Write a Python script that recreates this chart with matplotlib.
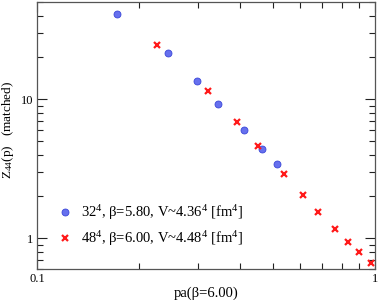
import numpy as np
import matplotlib
matplotlib.use("Agg")
import matplotlib.pyplot as plt
from matplotlib.ticker import LogLocator, NullFormatter, FixedLocator, FixedFormatter

# data
pa_32 = [0.1725, 0.244, 0.2985, 0.344, 0.409, 0.464, 0.513]
z44_32 = [41.2, 21.4, 13.5, 9.31, 5.99, 4.37, 3.43]

pa_48 = [0.2262, 0.320, 0.392, 0.450, 0.538, 0.612, 0.678, 0.760, 0.832, 0.899, 0.975]
z44_48 = [24.7, 11.5, 6.84, 4.63, 2.90, 2.05, 1.55, 1.16, 0.946, 0.794, 0.668]

label_32 = r"32$^4$, β=5.80, V~4.36$^4$ [fm$^4$]"
label_48 = r"48$^4$, β=6.00, V~4.48$^4$ [fm$^4$]"

plt.rcParams['font.family'] = ['Liberation Serif', 'DejaVu Serif']
plt.rcParams['mathtext.fontset'] = 'custom'
plt.rcParams['mathtext.rm'] = 'Liberation Serif'
plt.rcParams['mathtext.it'] = 'Liberation Serif:italic'

fig = plt.figure(figsize=(3.79, 3.0), dpi=100)
ax = fig.add_axes([0.0976, 0.103, 0.8914, 0.890])

ax.plot(pa_32, z44_32, ls='none', marker='o', ms=5, mfc='#6670ee',
        mec='#3a46d8', mew=0.6, label=label_32)
ax.plot(pa_48, z44_48, ls='none', marker='x', ms=5, mec='#ff1a1a',
        mew=1.6, label=label_48)

ax.set_xscale('log')
ax.set_yscale('log')
ax.set_xlim(0.1, 1.0)
ax.set_ylim(0.6, 50)

ax.xaxis.set_major_locator(FixedLocator([0.1, 1]))
ax.xaxis.set_major_formatter(FixedFormatter(['0.1', '1']))
ax.xaxis.set_minor_locator(LogLocator(base=10, subs=np.arange(2, 10)))
ax.xaxis.set_minor_formatter(NullFormatter())
ax.yaxis.set_major_locator(FixedLocator([1, 10]))
ax.yaxis.set_major_formatter(FixedFormatter(['1', '10']))
ax.yaxis.set_minor_locator(LogLocator(base=10, subs=np.arange(2, 10)))
ax.yaxis.set_minor_formatter(NullFormatter())

ax.tick_params(which='both', direction='in', top=True, right=True,
               labelsize=9, width=0.8, color='#222222')
ax.tick_params(axis='x', which='both', pad=3)
ax.tick_params(axis='y', which='both', pad=2.5)
ax.tick_params(which='major', length=7)
ax.tick_params(which='minor', length=4)
for s in ax.spines.values():
    s.set_linewidth(0.9)
    s.set_color('#555555')

ax.set_xlabel('pa(β=6.00)', fontsize=10.5, labelpad=1)
ax.set_ylabel(r'Z$_{44}$(p)   (matched)', fontsize=9.5)
ax.yaxis.set_label_coords(-0.063, 0.52)

ax.legend(loc='lower left', bbox_to_anchor=(0.035, 0.04), frameon=False,
          fontsize=10.5, handlelength=0.8, handletextpad=0.7,
          labelspacing=0.5, borderpad=0.2)

fig.savefig('out.png', dpi=100)
